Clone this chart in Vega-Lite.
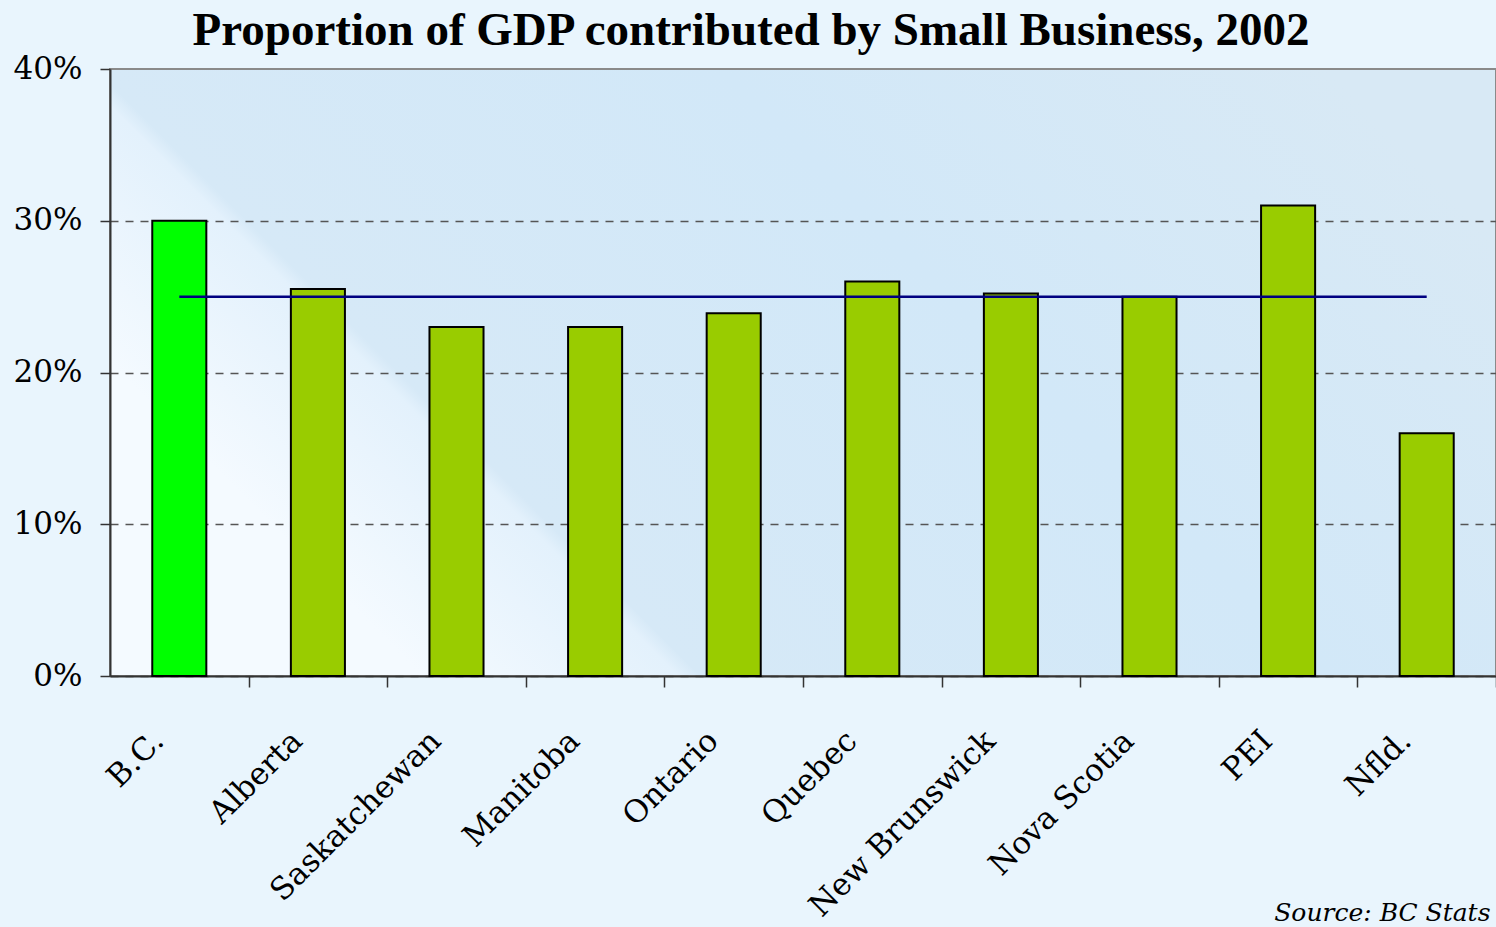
{
  "$schema": "https://vega.github.io/schema/vega-lite/v6.json",
  "width": 1386,
  "height": 607,
  "autosize": {"type": "none"},
  "padding": {"left": 110, "top": 69, "right": 0, "bottom": 251},
  "background": "#e9f5fd",
  "title": {
    "text": "Proportion of GDP contributed by Small Business, 2002",
    "font": "Liberation Serif",
    "fontSize": 47,
    "fontWeight": "bold",
    "color": "#000000",
    "anchor": "middle",
    "dx": -52,
    "dy": 20,
    "offset": 18
  },
  "data": {
    "values": [
      {"province": "B.C.", "share": 30.0, "group": "BC", "avg": 25},
      {"province": "Alberta", "share": 25.5, "group": "Other", "avg": 25},
      {"province": "Saskatchewan", "share": 23.0, "group": "Other", "avg": 25},
      {"province": "Manitoba", "share": 23.0, "group": "Other", "avg": 25},
      {"province": "Ontario", "share": 23.9, "group": "Other", "avg": 25},
      {"province": "Quebec", "share": 26.0, "group": "Other", "avg": 25},
      {"province": "New Brunswick", "share": 25.2, "group": "Other", "avg": 25},
      {"province": "Nova Scotia", "share": 25.0, "group": "Other", "avg": 25},
      {"province": "PEI", "share": 31.0, "group": "Other", "avg": 25},
      {"province": "Nfld.", "share": 16.0, "group": "Other", "avg": 25}
    ]
  },
  "layer": [
    {
      "mark": {"type": "bar", "stroke": "#000000", "strokeWidth": 2},
      "encoding": {
        "x": {
          "field": "province",
          "type": "nominal",
          "sort": null,
          "scale": {"paddingInner": 0.61, "paddingOuter": 0.305},
          "axis": {
            "title": "Source: BC Stats",
            "titleFont": "DejaVu Serif",
            "titleFontStyle": "italic",
            "titleFontWeight": "normal",
            "titleFontSize": 25,
            "titleColor": "#000000",
            "titleAnchor": "end",
            "titleAlign": "right",
            "titleX": 1380,
            "titleY": 244,
            "titleBaseline": "alphabetic",
            "domainColor": "#333333",
            "domainWidth": 2,
            "tickBand": "center",
            "tickOffset": 69.3,
            "tickColor": "#333333",
            "tickSize": 11,
            "tickWidth": 1.5,
            "labelFont": "DejaVu Serif",
            "labelFontSize": 31,
            "labelColor": "#000000",
            "labelAngle": -45,
            "labelAlign": "right",
            "labelBaseline": "middle",
            "labelPadding": 49,
            "labelOffset": -90,
            "labelOverlap": false,
            "labelLimit": 0
          }
        },
        "y": {
          "field": "share",
          "type": "quantitative",
          "scale": {"domain": [0, 40]},
          "axis": {
            "title": null,
            "values": [0, 10, 20, 30, 40],
            "labelExpr": "datum.value + '%'",
            "labelFont": "DejaVu Serif",
            "labelFontSize": 31,
            "labelColor": "#000000",
            "labelPadding": 18,
            "tickSize": 10,
            "tickColor": "#333333",
            "tickWidth": 1.5,
            "domainColor": "#333333",
            "domainWidth": 2,
            "grid": true,
            "gridColor": "#555555",
            "gridDash": {"condition": {"test": "datum.value == 40", "value": []}, "value": [8, 7]},
            "gridOpacity": {"condition": {"test": "datum.value == 40", "value": 0}, "value": 1},
            "gridWidth": 1.5
          }
        },
        "color": {
          "field": "group",
          "type": "nominal",
          "scale": {"domain": ["BC", "Other"], "range": ["#00ff00", "#99cc00"]},
          "legend": null
        }
      }
    },
    {
      "mark": {"type": "line", "color": "#000080", "strokeWidth": 2.5},
      "encoding": {
        "x": {"field": "province", "type": "nominal", "sort": null},
        "y": {"field": "avg", "type": "quantitative"}
      }
    }
  ],
  "config": {
    "view": {
      "fill": {
        "gradient": "linear",
        "x1": 0.05, "y1": 0.6, "x2": 0.966, "y2": 0.2,
        "stops": [
          {"offset": 0, "color": "#f4faff"},
          {"offset": 0.17, "color": "#e3f1fc"},
          {"offset": 0.185, "color": "#d6e9f7"},
          {"offset": 0.6, "color": "#d2e8f8"},
          {"offset": 1, "color": "#d8e9f5"}
        ]
      },
      "stroke": "#8a8a8a",
      "strokeWidth": 2
    }
  }
}
